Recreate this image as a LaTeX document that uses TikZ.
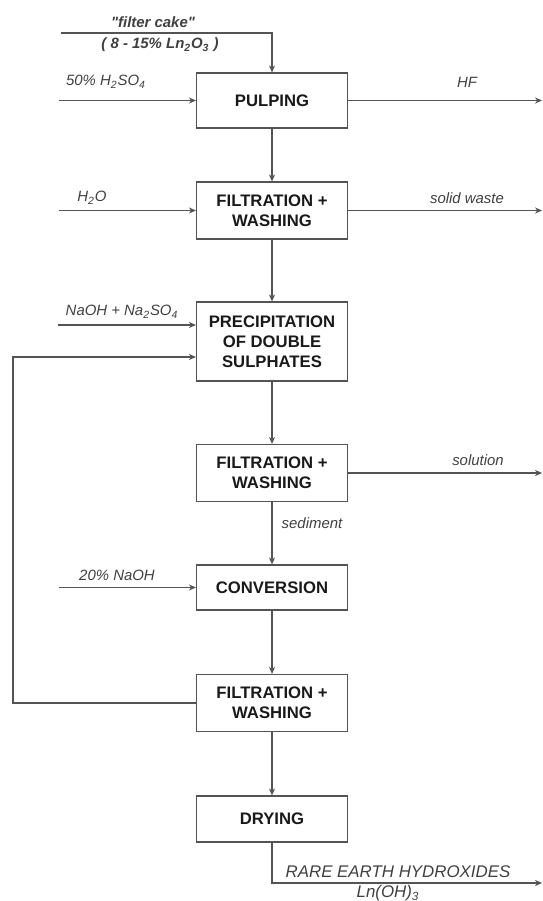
\documentclass[tikz,border=0pt]{standalone}
\usepackage{fontspec}
\setmainfont{Liberation Sans}
\usetikzlibrary{arrows.meta}

\definecolor{linegray}{gray}{0.33}
\definecolor{textgray}{gray}{0.25}

\tikzset{
  procbox/.style={draw=linegray, line width=0.7pt, minimum width=3.02cm,
    inner sep=0pt, align=center, text=black!90,
    font=\fontsize{9.5}{11.5}\selectfont\bfseries},
  flow/.style={draw=linegray, line width=0.6pt, -{Stealth[length=4pt,width=3.5pt]}},
  lbl/.style={text=textgray, inner sep=0pt, font=\fontsize{8.5}{10}\selectfont\itshape},
}

\begin{document}
\begin{tikzpicture}[x=0.02cm, y=-0.02cm]
\useasboundingbox (0,0) rectangle (543,901);

% Process boxes
\node[procbox, minimum height=1.1cm]  (pulp)  at (272,100.5) {PULPING};
\node[procbox, minimum height=1.14cm] (filt1) at (272,210.5) {FILTRATION +\\WASHING};
\node[procbox, minimum height=1.58cm] (prec)  at (272,341.5) {PRECIPITATION\\OF DOUBLE\\SULPHATES};
\node[procbox, minimum height=1.14cm] (filt2) at (272,473)   {FILTRATION +\\WASHING};
\node[procbox, minimum height=0.9cm]  (conv)  at (272,587.5) {CONVERSION};
\node[procbox, minimum height=1.14cm] (filt3) at (272,703)   {FILTRATION +\\WASHING};
\node[procbox, minimum height=0.92cm] (dry)   at (272,819)   {DRYING};

% Free ends
\coordinate (cake)    at (61,33);
\coordinate (feed)    at (59,0);
\coordinate (edge)    at (542,0);
\coordinate (naoh)    at (58,325);
\coordinate (recycle) at (13,357);
\coordinate (product) at (542,883);

% Main line
\draw[flow] (cake) -| (pulp.north);
\draw[flow] (pulp) -- (filt1);
\draw[flow] (filt1) -- (prec);
\draw[flow] (prec) -- (filt2);
\draw[flow] (filt2) -- (conv);
\draw[flow] (conv) -- (filt3);
\draw[flow] (filt3) -- (dry);
\draw[flow] (dry.south) |- (product);

% Inputs
\draw[flow] (pulp.west -| feed) -- (pulp.west);
\draw[flow] (filt1.west -| feed) -- (filt1.west);
\draw[flow] (naoh) -- (naoh -| prec.west);
\draw[flow] (conv.west -| feed) -- (conv.west);

% Outputs
\draw[flow] (pulp.east) -- (pulp.east -| edge);
\draw[flow] (filt1.east) -- (filt1.east -| edge);
\draw[flow] (filt2.east) -- (filt2.east -| edge);

% Recycle
\draw[flow] (filt3.west) -| (recycle) -- (recycle -| prec.west);

% Labels
\node[lbl, font=\fontsize{8.5}{10}\selectfont\bfseries\itshape] (cakelbl) at (153,22) {\textquotedbl filter cake\textquotedbl};
\node[lbl, font=\fontsize{8.5}{10}\selectfont\bfseries\itshape] (oxlbl) at (160,45) {( 8 - 15\% Ln\textsubscript{2}O\textsubscript{3} )};
\node[lbl] (acidlbl) at (106,82) {50\% H\textsubscript{2}SO\textsubscript{4}};
\node[lbl] (hflbl) at (467,82) {HF};
\node[lbl] (waterlbl) at (92,198) {H\textsubscript{2}O};
\node[lbl] (wastelbl) at (467,198) {solid waste};
\node[lbl] (naohlbl) at (122,312) {NaOH + Na\textsubscript{2}SO\textsubscript{4}};
\node[lbl] (sollbl) at (478,460) {solution};
\node[lbl] (sedlbl) at (312,523) {sediment};
\node[lbl] (convlbl) at (117,575) {20\% NaOH};
\node[lbl, font=\fontsize{9.6}{10}\selectfont\itshape] (prodlbl) at (398,872) {RARE EARTH HYDROXIDES};
\node[lbl, font=\fontsize{9.6}{10}\selectfont\itshape] (formlbl) at (388,893) {Ln(OH)\textsubscript{3}};

\end{tikzpicture}
\end{document}
